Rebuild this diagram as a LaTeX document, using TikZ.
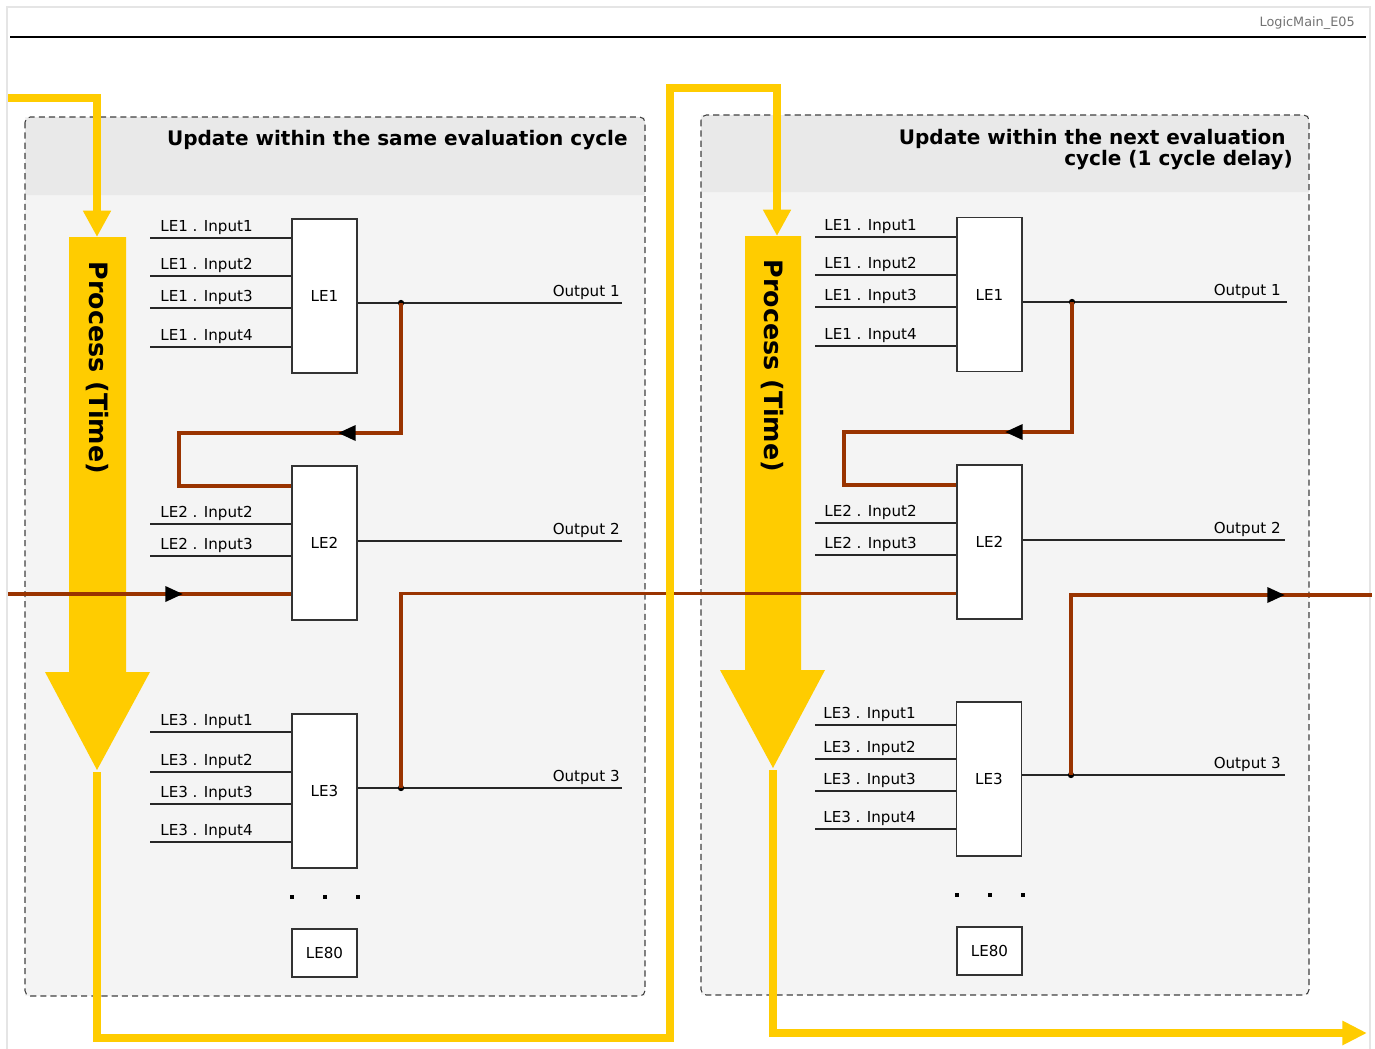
\documentclass[tikz,border=0pt]{standalone}
\usepackage{fontspec}
\setmainfont{DejaVu Sans}
\usetikzlibrary{arrows.meta,decorations.markings}

\definecolor{procyellow}{HTML}{FFCC00}
\definecolor{linkred}{HTML}{993300}
\definecolor{panelgray}{HTML}{F4F4F4}
\definecolor{headgray}{HTML}{E9E9E9}

\newcommand{\lblfont}{\fontsize{8.6}{10}\selectfont}

\tikzset{
  leblock/.style={draw=black!80, fill=white, line width=0.6pt, minimum width=1.3cm,
    minimum height=3.08cm, inner sep=0pt, font=\lblfont},
  lesmall/.style={leblock, minimum height=0.96cm},
  inlabel/.style={anchor=base west, inner sep=0pt, font=\lblfont},
  outlabel/.style={anchor=base east, inner sep=0pt, font=\lblfont},
  sigline/.style={draw=black!85, line width=0.6pt},
  linkline/.style={draw=linkred, line width=2pt},
  timeline/.style={draw=procyellow, line width=4.5pt},
  panelframe/.style={draw=black!75, dash pattern=on 3.5pt off 2.3pt, rounded corners=3pt, line width=0.6pt},
  junction/.style={circle, fill=black, inner sep=0pt, minimum size=3.6pt},
  arrowat/.style={postaction={decorate, decoration={markings,
    mark=at position #1 with {\arrow{Triangle[length=10pt,width=8.5pt,color=black]}}}}},
}

\begin{document}
\begin{tikzpicture}[x=0.02cm, y=-0.02cm]
\useasboundingbox (0,0) rectangle (1375,1048);

% frame and header line
\draw[black!10, line width=0.8pt] (7,7) rectangle (1370,1052);
\draw[line width=1.4pt] (10,37) -- (1366,37);
\node[anchor=base east, inner sep=0pt, text=black!55, font=\fontsize{7.3}{9}\selectfont] (docid) at (1355,27) {LogicMain\_E05};

% panels
\fill[panelgray] (25,117) rectangle (645,996);
\fill[headgray] (25,195) [rounded corners=3pt] -- (25,117) -- (645,117) [sharp corners] -- (645,195) -- cycle;
\draw[panelframe] (25,117) rectangle (645,996);
\node[anchor=base east, inner sep=0pt, font=\bfseries\fontsize{11.4}{11.6}\selectfont] (titleA) at (628,145) {Update within the same evaluation cycle};

\fill[panelgray] (701,115) rectangle (1309,995);
\fill[headgray] (701,192) [rounded corners=3pt] -- (701,115) -- (1309,115) [sharp corners] -- (1309,192) -- cycle;
\draw[panelframe] (701,115) rectangle (1309,995);
\node[anchor=base east, inner sep=0pt, align=right, font=\bfseries\fontsize{11.4}{11.4}\selectfont] (titleB) at (1293,165) {Update within the next evaluation\hspace*{0.35em}\\cycle (1 cycle delay)};

% process arrows
\fill[procyellow] (69,237) -- (126,237) -- (126,672) -- (150,672) -- (97,770) -- (45,672) -- (69,672) -- cycle;
\node[rotate=-90, inner sep=0pt, font=\bfseries\fontsize{14.4}{16}\selectfont] (procA) at (97,368) {Process (Time)};
\fill[procyellow] (745,236) -- (801,236) -- (801,670) -- (825,670) -- (773,768) -- (720,670) -- (745,670) -- cycle;
\node[rotate=-90, inner sep=0pt, font=\bfseries\fontsize{14.4}{16}\selectfont] (procB) at (772,366) {Process (Time)};

% left panel blocks
\node[leblock] (le1) at (324.5,296) {LE1};
\node[leblock] (le2) at (324.5,543) {LE2};
\node[leblock] (le3) at (324.5,791) {LE3};
\node[lesmall] (le80) at (324.5,953) {LE80};

\foreach \y/\t in {238/Input1, 276/Input2, 308/Input3, 347/Input4} {
  \draw[sigline] (150,\y) -- (le1.west |- 0,\y);
  \node[inlabel] (a1\t) at (160,\y-6.5) {LE1 . \t};
}
\foreach \y/\t in {524/Input2, 556/Input3} {
  \draw[sigline] (150,\y) -- (le2.west |- 0,\y);
  \node[inlabel] (a2\t) at (160,\y-6.5) {LE2 . \t};
}
\foreach \y/\t in {732/Input1, 772/Input2, 804/Input3, 842/Input4} {
  \draw[sigline] (150,\y) -- (le3.west |- 0,\y);
  \node[inlabel] (a3\t) at (160,\y-6.5) {LE3 . \t};
}

\draw[sigline] (le1.east |- 0,303) -- (622,303);
\node[outlabel] (aout1) at (620,296.5) {Output 1};
\draw[sigline] (le2.east |- 0,541) -- (622,541);
\node[outlabel] (aout2) at (620,534.5) {Output 2};
\draw[sigline] (le3.east |- 0,788) -- (622,788);
\node[outlabel] (aout3) at (620,781.5) {Output 3};

\node[junction] (ja1) at (401,303) {};
\node[junction] (ja3) at (401,788) {};

\foreach \x in {292,325,358}
  \fill (\x-2,895) rectangle ++(4,4);

% right panel blocks
\node[leblock] (re1) at (989.5,294.5) {LE1};
\node[leblock] (re2) at (989.5,542) {LE2};
\node[leblock] (re3) at (989,779) {LE3};
\node[lesmall] (re80) at (989.5,951) {LE80};

\foreach \y/\t in {237/Input1, 275/Input2, 307/Input3, 346/Input4} {
  \draw[sigline] (815,\y) -- (re1.west |- 0,\y);
  \node[inlabel] (b1\t) at (824,\y-6.5) {LE1 . \t};
}
\foreach \y/\t in {523/Input2, 555/Input3} {
  \draw[sigline] (815,\y) -- (re2.west |- 0,\y);
  \node[inlabel] (b2\t) at (824,\y-6.5) {LE2 . \t};
}
\foreach \y/\t in {725/Input1, 759/Input2, 791/Input3, 829/Input4} {
  \draw[sigline] (815,\y) -- (re3.west |- 0,\y);
  \node[inlabel] (b3\t) at (823,\y-6.5) {LE3 . \t};
}

\draw[sigline] (re1.east |- 0,302) -- (1287,302);
\node[outlabel] (bout1) at (1281,295.5) {Output 1};
\draw[sigline] (re2.east |- 0,540) -- (1285,540);
\node[outlabel] (bout2) at (1281,533.5) {Output 2};
\draw[sigline] (re3.east |- 0,775) -- (1285,775);
\node[outlabel] (bout3) at (1281,768.5) {Output 3};

\node[junction] (jb1) at (1072,302) {};
\node[junction] (jb3) at (1071,775) {};

\foreach \x in {957,990,1023}
  \fill (\x-2,893) rectangle ++(4,4);

% links between blocks
\draw[linkline, arrowat=3.86cm] (ja1.center) -- (401,433) -- (179,433) -- (179,486) -- (le2.west |- 0,486);
\draw[linkline, arrowat=3.5cm] (8,594) -- (le2.west |- 0,594);
\draw[linkline] (ja3.center) -- (401,593.5) -- (re2.west |- 0,593.5);
\draw[linkline, arrowat=3.94cm] (jb1.center) -- (1072,432) -- (844,432) -- (844,485) -- (re2.west |- 0,485);
\draw[linkline, arrowat=7.88cm] (jb3.center) -- (1071,595) -- (1372,595);

% time flow
\draw[timeline, -{Triangle[length=15pt,width=15pt]}] (8,98) -| (97,237);
\draw[timeline, -{Triangle[length=15pt,width=15pt]}] (97,772) |- (670,1038) |- (777,88) -- (777,236);
\draw[timeline, -{Triangle[length=14pt,width=13pt]}] (773,770) |- (1367,1033);
\end{tikzpicture}
\end{document}
